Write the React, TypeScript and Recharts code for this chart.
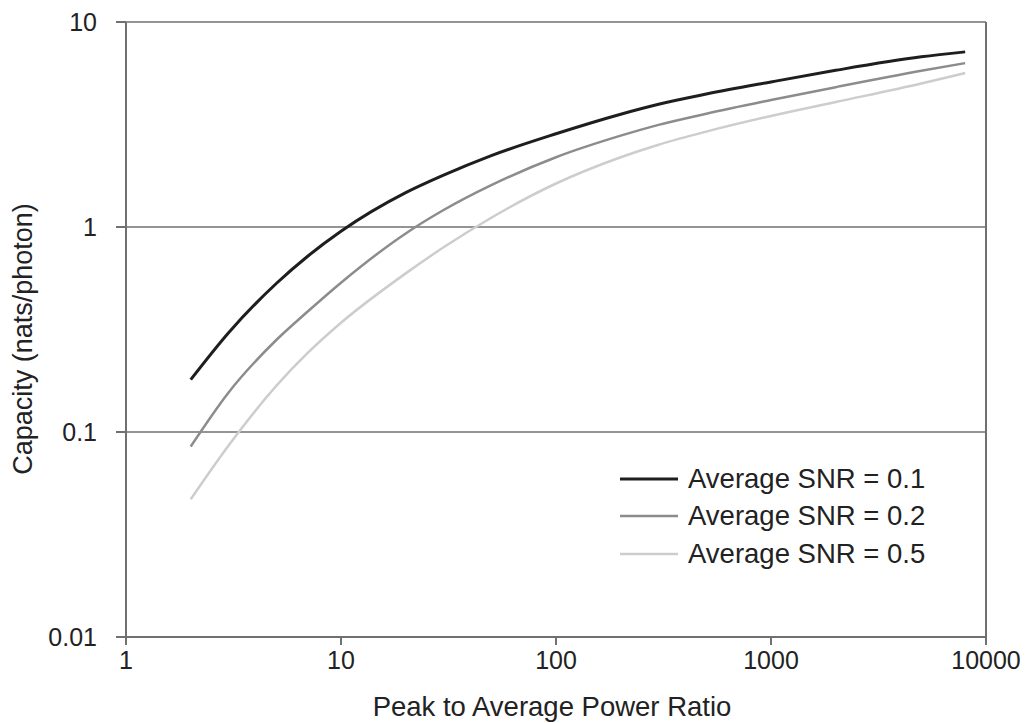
import { LineChart, Line, XAxis, YAxis, CartesianGrid, ReferenceLine } from "recharts";

// peak to average power ratio (x) and capacity in nats/photon per average SNR
const peakRatio = [2, 3, 5, 7, 10, 20, 30, 50, 100, 200, 300, 500, 1000, 2000, 5000, 8000];
const snr01 = [0.18, 0.305, 0.53, 0.72, 0.953, 1.47, 1.79, 2.23, 2.85, 3.55, 3.97, 4.45, 5.1, 5.81, 6.76, 7.15];
const snr02 = [0.085, 0.156, 0.281, 0.387, 0.535, 0.93, 1.21, 1.6, 2.19, 2.79, 3.15, 3.57, 4.16, 4.81, 5.78, 6.3];
const snr05 = [0.047, 0.086, 0.168, 0.243, 0.341, 0.594, 0.796, 1.11, 1.63, 2.19, 2.52, 2.92, 3.48, 4.07, 5.01, 5.64];

const xTicks = [1, 10, 100, 1000, 10000];
const yTicks = [0.01, 0.1, 1, 10];

const seriesNames = ["Average SNR = 0.1", "Average SNR = 0.2", "Average SNR = 0.5"];
const seriesColors = ["#1e1e1e", "#8c8c8c", "#cdcdcd"];

const data = peakRatio.map((x, i) => ({ x, a: snr01[i], b: snr02[i], c: snr05[i] }));

const FONT = "'Liberation Sans', Arial, sans-serif";
const AXIS = "#707070";

function LegendBox() {
  return (
    <div style={{ position: "absolute", left: 620, top: 460, fontFamily: FONT, fontSize: 27.5, color: "#222" }}>
      {seriesNames.map((n, i) => (
        <div key={n} style={{ display: "flex", alignItems: "center", height: 37.5, whiteSpace: "nowrap" }}>
          <svg width={58} height={6} style={{ marginRight: 10 }}>
            <line x1={0} y1={3} x2={58} y2={3} stroke={seriesColors[i]} strokeWidth={i === 0 ? 3 : 2.5} />
          </svg>
          <span>{n}</span>
        </div>
      ))}
    </div>
  );
}

export default function App() {
  return (
    <div style={{ position: "absolute", left: 0, top: 0, width: 1027, height: 723, background: "#fff" }}>
      <LineChart width={1027} height={723} data={data} margin={{ top: 22, right: 41, left: 0, bottom: 0 }}>
        <CartesianGrid horizontal vertical={false} stroke={AXIS} strokeWidth={1.5} />
        <ReferenceLine x={10000} stroke={AXIS} strokeWidth={2} />
        <XAxis
          dataKey="x"
          type="number"
          scale="log"
          domain={[1, 10000]}
          ticks={xTicks}
          allowDataOverflow
          height={86}
          stroke={AXIS}
          strokeWidth={2}
          tickSize={8}
          tickMargin={6}
          tick={{ fontSize: 25, fill: "#222", fontFamily: FONT }}
          label={{
            content: () => (
              <text x={552} y={716} textAnchor="middle" fontSize={27.5} fill="#222" fontFamily={FONT}>
                Peak to Average Power Ratio
              </text>
            ),
          }}
        />
        <YAxis
          type="number"
          scale="log"
          domain={[0.01, 10]}
          ticks={yTicks}
          allowDataOverflow
          width={126}
          stroke={AXIS}
          strokeWidth={2}
          tickSize={10}
          tickMargin={19}
          tick={{ fontSize: 25, fill: "#222", fontFamily: FONT }}
          label={{
            content: () => (
              <text
                x={23}
                y={339}
                textAnchor="middle"
                dominantBaseline="central"
                transform="rotate(-90, 23, 339)"
                fontSize={27}
                fill="#222"
                fontFamily={FONT}
              >
                Capacity (nats/photon)
              </text>
            ),
          }}
        />
        <Line type="monotone" dataKey="a" name={seriesNames[0]} stroke={seriesColors[0]} strokeWidth={3} dot={false} isAnimationActive={false} />
        <Line type="monotone" dataKey="b" name={seriesNames[1]} stroke={seriesColors[1]} strokeWidth={2.5} dot={false} isAnimationActive={false} />
        <Line type="monotone" dataKey="c" name={seriesNames[2]} stroke={seriesColors[2]} strokeWidth={2.5} dot={false} isAnimationActive={false} />
      </LineChart>
      <LegendBox />
    </div>
  );
}
